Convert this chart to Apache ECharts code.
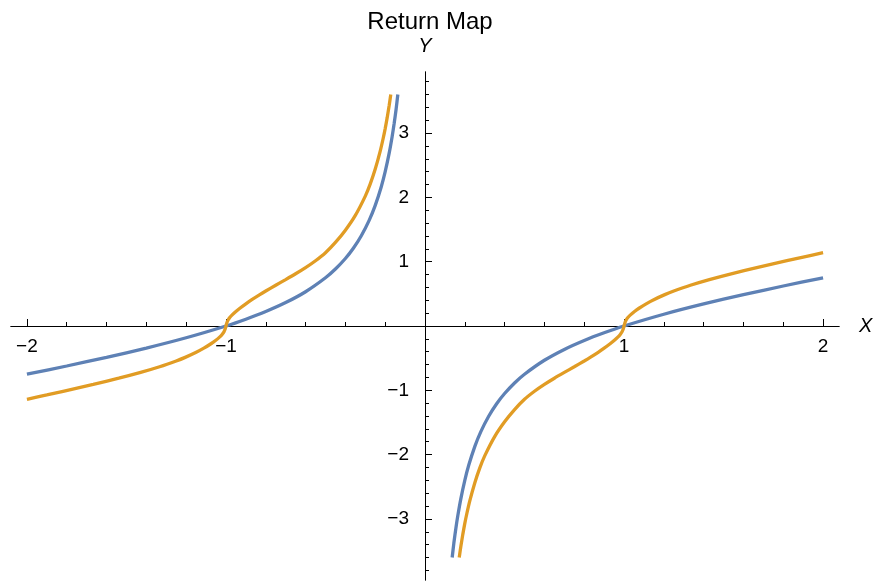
<!DOCTYPE html>
<html><head><meta charset="utf-8">
<script src="https://cdn.jsdelivr.net/npm/echarts@6/dist/echarts.min.js"></script>
<style>html,body{margin:0;padding:0;background:#fff}#c{width:875px;height:585px}</style>
</head><body><div id="c"></div><script>
const titleText = 'Return Map';
const xName = 'X';
const yName = 'Y';
const xMajorTicks = [-2, -1, 0, 1, 2];
const xMinorTicks = [-1.8, -1.6, -1.4, -1.2, -0.8, -0.6, -0.4, -0.2, 0.2, 0.4, 0.6, 0.8, 1.2, 1.4, 1.6, 1.8];
const yMajorTicks = [-3, -2, -1, 0, 1, 2, 3];
const yMinorTicks = [-3.8, -3.6, -3.4, -3.2, -2.8, -2.6, -2.4, -2.2, -1.8, -1.6, -1.4, -1.2, -0.8, -0.6, -0.4, -0.2,
  0.2, 0.4, 0.6, 0.8, 1.2, 1.4, 1.6, 1.8, 2.2, 2.4, 2.6, 2.8, 3.2, 3.4, 3.6, 3.8];

// Blue curve, left branch
const blueLeftX = [-2.0, -1.8, -1.6, -1.4, -1.2, -1.0, -0.9, -0.8, -0.7, -0.6, -0.5, -0.45, -0.4, -0.36, -0.32, -0.28, -0.25, -0.22, -0.2, -0.18, -0.165, -0.155, -0.145, -0.1365];
const blueLeftY = [-0.75, -0.622, -0.4875, -0.343, -0.183, 0, 0.106, 0.225, 0.364, 0.533, 0.75, 0.886, 1.05, 1.209, 1.403, 1.646, 1.875, 2.163, 2.4, 2.688, 2.948, 3.148, 3.376, 3.6];
// Blue curve, right branch
const blueRightX = [0.1365, 0.145, 0.155, 0.165, 0.18, 0.2, 0.22, 0.25, 0.28, 0.32, 0.36, 0.4, 0.45, 0.5, 0.6, 0.7, 0.8, 0.9, 1.0, 1.2, 1.4, 1.6, 1.8, 2.0];
const blueRightY = [-3.6, -3.376, -3.148, -2.948, -2.688, -2.4, -2.163, -1.875, -1.646, -1.403, -1.209, -1.05, -0.886, -0.75, -0.533, -0.364, -0.225, -0.106, 0, 0.183, 0.343, 0.4875, 0.622, 0.75];
// Orange curve, left branch
const orangeLeftX = [-2.0, -1.9, -1.8182, -1.6667, -1.5385, -1.4286, -1.3333, -1.25, -1.2048, -1.1494, -1.1111, -1.0753, -1.0526, -1.0309, -1.0204, -1.0101, -1.005, -1.0,
  -0.995, -0.99, -0.98, -0.97, -0.95, -0.93, -0.9, -0.87, -0.83, -0.8, -0.75, -0.7, -0.65, -0.6, -0.55, -0.5, -0.45, -0.4, -0.35, -0.3, -0.275, -0.25, -0.225, -0.21, -0.2, -0.19, -0.18, -0.172];
const orangeLeftY = [-1.14, -1.072, -1.015, -0.908, -0.812, -0.722, -0.634, -0.544, -0.488, -0.409, -0.345, -0.276, -0.226, -0.169, -0.135, -0.09, -0.055, 0,
  0.055, 0.09, 0.135, 0.169, 0.226, 0.276, 0.345, 0.409, 0.488, 0.544, 0.634, 0.722, 0.812, 0.908, 1.015, 1.14, 1.30, 1.49, 1.72, 2.02, 2.21, 2.44, 2.72, 2.92, 3.07, 3.24, 3.43, 3.6];
// Orange curve, right branch
const orangeRightX = [0.172, 0.18, 0.19, 0.2, 0.21, 0.225, 0.25, 0.275, 0.3, 0.35, 0.4, 0.45, 0.5, 0.55, 0.6, 0.65, 0.7, 0.75, 0.8, 0.83, 0.87, 0.9, 0.93, 0.95, 0.97, 0.98, 0.99, 0.995, 1.0,
  1.005, 1.0101, 1.0204, 1.0309, 1.0526, 1.0753, 1.1111, 1.1494, 1.2048, 1.25, 1.3333, 1.4286, 1.5385, 1.6667, 1.8182, 1.9, 2.0];
const orangeRightY = [-3.6, -3.43, -3.24, -3.07, -2.92, -2.72, -2.44, -2.21, -2.02, -1.72, -1.49, -1.30, -1.14, -1.015, -0.908, -0.812, -0.722, -0.634, -0.544, -0.488, -0.409, -0.345, -0.276, -0.226, -0.169, -0.135, -0.09, -0.055, 0,
  0.055, 0.09, 0.135, 0.169, 0.226, 0.276, 0.345, 0.409, 0.488, 0.544, 0.634, 0.722, 0.812, 0.908, 1.015, 1.072, 1.14];

const BLUE = '#5E81B5';
const ORANGE = '#E19C24';
const FONT = 'Liberation Sans, Arial, sans-serif';

function pairs(xs, ys) { return xs.map((x, i) => [x, ys[i]]); }
function fmt(v) { return v < 0 ? '\u2212' + Math.abs(v) : String(v); }

const X_MIN = -2.08, X_MAX = 2.08, Y_MIN = -3.95, Y_MAX = 3.95;
const GRID = { left: 11, right: 36, top: 72, bottom: 5 };
const GRID_W = 875 - GRID.left - GRID.right;
const GRID_H = 585 - GRID.top - GRID.bottom;
// shift axes so they cross at the origin (data origin sits at this fraction of the grid)
const X_AXIS_OFFSET = -GRID_H * (0 - Y_MIN) / (Y_MAX - Y_MIN);
const Y_AXIS_OFFSET = -GRID_W * (0 - X_MIN) / (X_MAX - X_MIN);
const ORIGIN_PX = GRID.left + GRID_W * (0 - X_MIN) / (X_MAX - X_MIN);

function lineSeries(xs, ys, color) {
  return {
    type: 'line', xAxisIndex: 0, yAxisIndex: 0,
    data: pairs(xs, ys), showSymbol: false, smooth: 0.25,
    lineStyle: { color: color, width: 3.3 }, itemStyle: { color: color },
    silent: true, animation: false, z: 3
  };
}

const axisLineStyle = { show: true, onZero: false, lineStyle: { color: '#000', width: 1 } };

const chart = echarts.init(document.getElementById('c'), null, { renderer: 'canvas' });
chart.setOption({
  animation: false,
  backgroundColor: '#fff',
  title: {
    text: titleText, left: ORIGIN_PX, textAlign: 'center', top: 5,
    textStyle: { fontFamily: FONT, fontSize: 24, fontWeight: 'normal', color: '#000' }
  },
  grid: { left: GRID.left, right: GRID.right, top: GRID.top, bottom: GRID.bottom, containLabel: false, outerBoundsMode: 'none' },
  xAxis: [
    {
      type: 'value', min: X_MIN, max: X_MAX, position: 'bottom', offset: X_AXIS_OFFSET,
      axisLine: axisLineStyle,
      axisTick: { show: true, inside: true, length: 7, customValues: xMajorTicks, lineStyle: { color: '#000', width: 1 } },
      axisLabel: { customValues: xMajorTicks.filter(v => v !== 0), formatter: fmt, fontFamily: FONT, fontSize: 19, color: '#000', margin: 11 },
      splitLine: { show: false },
      name: xName, nameLocation: 'end', nameGap: 20,
      nameTextStyle: { fontFamily: FONT, fontStyle: 'italic', fontSize: 20, color: '#000', align: 'left', verticalAlign: 'middle', padding: [4, 0, 0, 0] }
    },
    {
      type: 'value', min: X_MIN, max: X_MAX, position: 'bottom', offset: X_AXIS_OFFSET,
      axisLine: axisLineStyle,
      axisTick: { show: true, inside: true, length: 4, customValues: xMinorTicks, lineStyle: { color: '#000', width: 1 } },
      axisLabel: { show: false },
      splitLine: { show: false }
    }
  ],
  yAxis: [
    {
      type: 'value', min: Y_MIN, max: Y_MAX, position: 'left', offset: Y_AXIS_OFFSET,
      axisLine: axisLineStyle,
      axisTick: { show: true, inside: true, length: 7, customValues: yMajorTicks, lineStyle: { color: '#000', width: 1 } },
      axisLabel: { customValues: yMajorTicks.filter(v => v !== 0), formatter: fmt, fontFamily: FONT, fontSize: 19, color: '#000', margin: 16 },
      splitLine: { show: false },
      name: yName, nameLocation: 'end', nameGap: 16,
      nameTextStyle: { fontFamily: FONT, fontStyle: 'italic', fontSize: 20, color: '#000', align: 'center' }
    },
    {
      type: 'value', min: Y_MIN, max: Y_MAX, position: 'left', offset: Y_AXIS_OFFSET,
      axisLine: axisLineStyle,
      axisTick: { show: true, inside: true, length: 4, customValues: yMinorTicks, lineStyle: { color: '#000', width: 1 } },
      axisLabel: { show: false },
      splitLine: { show: false }
    }
  ],
  series: [
    lineSeries(blueLeftX, blueLeftY, BLUE),
    lineSeries(blueRightX, blueRightY, BLUE),
    lineSeries(orangeLeftX, orangeLeftY, ORANGE),
    lineSeries(orangeRightX, orangeRightY, ORANGE)
  ]
});
</script></body></html>
